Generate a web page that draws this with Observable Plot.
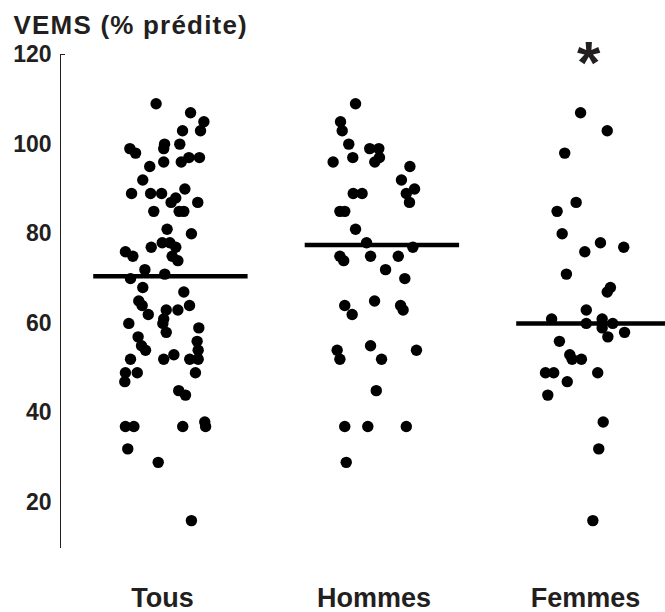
<!DOCTYPE html>
<html><head><meta charset="utf-8">
<script src="https://cdn.jsdelivr.net/npm/d3@7"></script>
<script src="https://cdn.jsdelivr.net/npm/@observablehq/plot@0.6"></script>
<style>body{margin:0;background:#fff}</style>
</head><body><div id="chart"></div>
<script>
const title = "VEMS (% prédite)";
const categories = ["Tous", "Hommes", "Femmes"];
const yTicks = [20, 40, 60, 80, 100, 120];
const medians = [70.5, 77.5, 60];
const significance = [{category: "Femmes", mark: "*"}];

const tousValues = [109,107,105,103,103,99,98,100,99,100,95,96,96,97,97,92,89,89,89,90,87,88,87,85,85,85,81,80,76,77,78,78,77,75,75,74,72,70,71,68,67,65,64,64,62,63,63,61,60,60,58,59,57,55,54,56,54,52,52,53,52,52,49,49,47,49,45,44,37,37,37,38,37,32,29,16];
const tousJitter = [-0.035,0.128,0.191,0.175,0.090,-0.159,-0.132,0.005,0.001,0.077,-0.065,0.001,0.084,0.120,0.170,-0.098,-0.151,-0.061,-0.009,0.101,0.036,0.058,0.162,-0.046,0.074,0.096,0.017,0.132,-0.180,-0.058,-0.006,0.030,0.058,-0.145,0.041,0.068,-0.088,-0.156,0.006,-0.098,0.096,-0.117,-0.101,0.123,-0.072,0.013,0.068,0.001,-0.003,-0.164,0.013,0.167,-0.120,-0.104,-0.085,0.159,0.164,-0.156,0.001,0.049,0.124,0.164,-0.180,-0.124,-0.183,0.151,0.072,0.104,-0.180,-0.140,0.091,0.195,0.199,-0.169,-0.025,0.132];

const hommesValues = [109,105,103,100,96,97,99,99,97,96,95,92,90,89,87,89,89,85,85,81,78,77,75,74,75,75,72,70,64,62,65,64,63,54,52,55,52,54,45,37,37,37,29];
const hommesJitter = [-0.092,-0.163,-0.155,-0.124,-0.198,-0.105,-0.025,0.018,0.021,-0.001,0.165,0.125,0.187,0.148,0.163,-0.103,-0.061,-0.166,-0.143,-0.092,-0.040,0.179,-0.166,-0.148,-0.021,0.110,0.050,0.141,-0.143,-0.108,-0.002,0.121,0.133,-0.179,-0.166,-0.021,0.031,0.196,0.006,-0.143,-0.034,0.148,-0.136];

const femmesValues = [107,103,98,87,85,80,78,76,77,71,67,68,63,61,60,61,60,59,60,57,58,56,53,52,52,49,49,49,47,44,38,32,16];
const femmesJitter = [-0.028,0.098,-0.103,-0.049,-0.139,-0.115,0.066,-0.008,0.176,-0.095,0.098,0.113,-0.001,-0.165,-0.001,0.074,0.074,0.074,0.124,0.101,0.180,-0.128,-0.079,-0.068,-0.024,-0.194,-0.155,0.053,-0.091,-0.183,0.079,0.058,0.030];

const groups = [[tousValues, tousJitter], [hommesValues, hommesJitter], [femmesValues, femmesJitter]];
const points = groups.flatMap(([vals, jit], i) => vals.map((v, j) => ({pos: i + 1 + jit[j], v})));
const medianRows = medians.map((m, i) => ({pos: i + 1, v: m}));

const ink = "#231f20";
const plot = Plot.plot({
  width: 665, height: 612,
  marginTop: 54, marginBottom: 65, marginLeft: 60, marginRight: 0,
  style: {fontFamily: "'Liberation Sans', Arial, sans-serif", fontWeight: "bold", color: ink, background: "#fff", overflow: "visible"},
  x: {type: "linear", domain: [0.513, 3.3735], label: null},
  y: {domain: [10, 120], label: null},
  marks: [
    Plot.frame({anchor: "left", stroke: ink, strokeWidth: 1}),
    Plot.axisY({ticks: yTicks, tickSize: 0, tickPadding: 9, fontSize: 23, fontWeight: "bold", label: null}),
    Plot.axisY({ticks: [120], tickSize: 5, dx: 5, tickFormat: () => "", label: null, stroke: ink}),
    Plot.axisX({ticks: [1, 2, 3], tickSize: 0, tickPadding: 40, dx: -1, fontSize: 27, fontWeight: "bold", tickFormat: d => categories[d - 1], label: null}),
    Plot.dot(points, {x: "pos", y: "v", r: 5.7, fill: "black"}),
    Plot.ruleY(medianRows, {x1: d => d.pos - 0.33, x2: d => d.pos + 0.40, y: "v", stroke: "black", strokeWidth: 4.5}),
    Plot.text(significance, {x: d => categories.indexOf(d.category) + 1.01, y: () => 120, text: "mark", fontSize: 60, fontWeight: "bold", fill: ink, lineAnchor: "bottom", dy: 28}),
    Plot.text([title], {text: d => d, frameAnchor: "top-left", dx: -47, dy: -20.5, lineAnchor: "bottom", textAnchor: "start", fontSize: 26, fontWeight: "bold", fill: ink})
  ]
});
document.getElementById("chart").appendChild(plot);
d3.select(plot).selectAll("text").filter(function() { return this.textContent === title; }).attr("letter-spacing", "1.2px");
</script>
</body></html>
